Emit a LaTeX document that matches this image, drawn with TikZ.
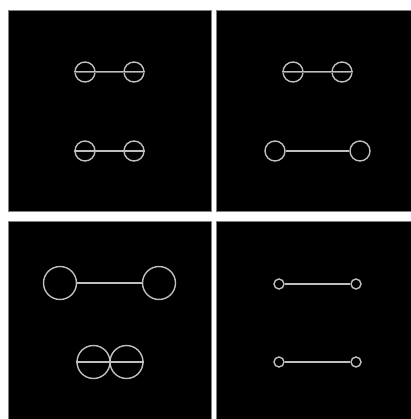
\documentclass[tikz,border=0pt]{standalone}
\usepackage{tikz}
\usetikzlibrary{positioning}
\begin{document}
\begin{tikzpicture}[
  x=1pt, y=-1pt,
  panel/.style={fill=black, draw=black!50, line width=0.6pt},
  ball/.style={circle, draw=black!25, line width=1.4pt, minimum size=20pt, inner sep=0pt},
  bigball/.style={ball, minimum size=33pt},
  tinyball/.style={ball, minimum size=10pt},
  rod/.style={draw=black!25, line width=1.4pt},
  twinrod/.style={draw=black!25, double=black!55, double distance=0.6pt, line width=0.9pt},
]
\useasboundingbox[fill=white] (0,0) rectangle (410,419);
% ---------------- panels ----------------
\draw[panel] (8.5,10) rectangle (211,211);
\draw[panel] (216,10) rectangle (412,211);
\draw[panel] (8.5,221) rectangle (211,421);
\draw[panel] (216,221) rectangle (412,421);
% ---------------- top left ----------------
\node[ball] (tlA) at (85,72) {};   \node[ball] (tlB) at (134,72) {};
\draw[twinrod] (tlA.west) -- (tlB.east);
\node[ball] (tlC) at (85,151) {};  \node[ball] (tlD) at (134,151) {};
\draw[rod] (tlC.west) -- (tlD.east);
% ---------------- top right ----------------
\node[ball] (trA) at (293,72) {};  \node[ball] (trB) at (342,72) {};
\draw[twinrod] (trA.west) -- (trB.east);
\node[ball] (trC) at (275,151) {}; \node[ball] (trD) at (360,151) {};
\draw[rod] (trC) -- (trD);
% ---------------- bottom left ----------------
\node[bigball] (blA) at (60,283) {};  \node[bigball] (blB) at (159,283) {};
\draw[rod] (blA) -- (blB);
\node[bigball] (blC) at (93.5,362) {}; \node[bigball] (blD) at (126.5,362) {};
\draw[rod] (blC.west) -- (blD.east);
% ---------------- bottom right ----------------
\node[tinyball] (brA) at (279,284) {}; \node[tinyball] (brB) at (356,284) {};
\draw[rod] (brA) -- (brB);
\node[tinyball] (brC) at (279,362) {}; \node[tinyball] (brD) at (356,362) {};
\draw[rod] (brC) -- (brD);
\end{tikzpicture}
\end{document}
